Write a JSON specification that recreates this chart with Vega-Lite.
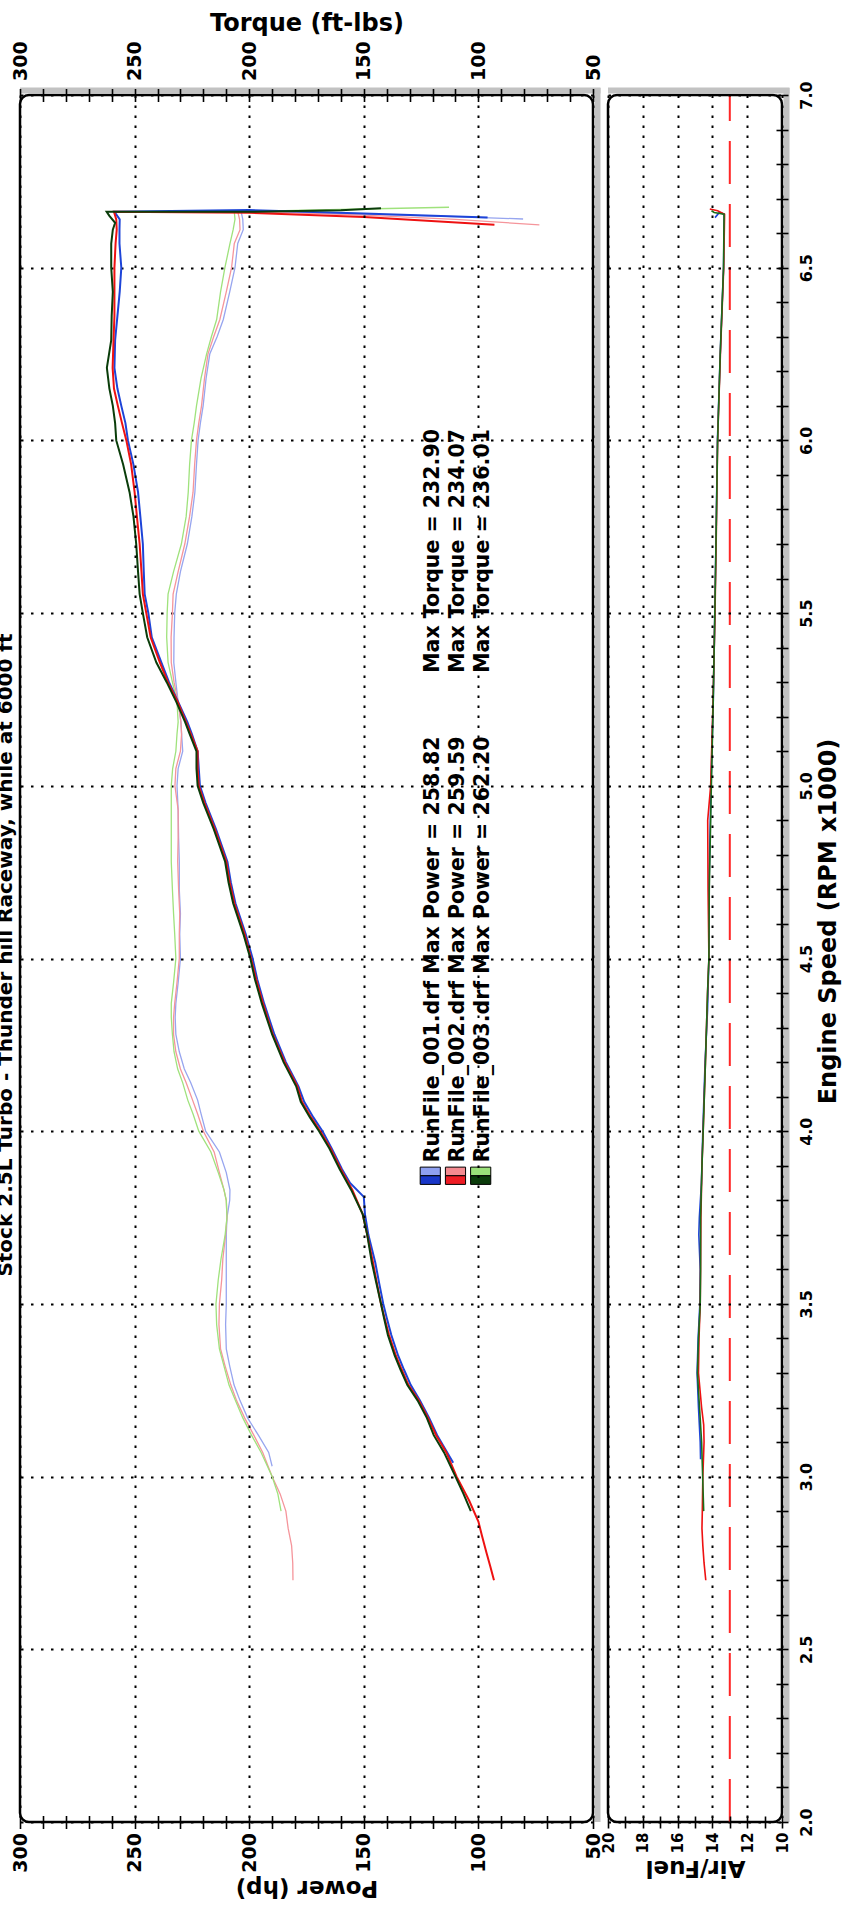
{
"$schema": "https://vega.github.io/schema/vega-lite/v6.json",
"background": "white",
"padding": {"left": -5, "top": 10, "right": 0, "bottom": 6},
"title": {"text": "Stock 2.5L Turbo - Thunder hill Raceway, while at 6000 ft", "orient": "left", "anchor": "middle", "fontSize": 20, "fontWeight": "bold", "color": "#000", "offset": -6},
"datasets": {
"torque": [
{"run":"001","i":0,"rpm":3.03,"value":190},{"run":"001","i":1,"rpm":3.07,"value":191.5},{"run":"001","i":2,"rpm":3.12,"value":196},{"run":"001","i":3,"rpm":3.17,"value":200.7},{"run":"001","i":4,"rpm":3.22,"value":204},{"run":"001","i":5,"rpm":3.265,"value":206.6},{"run":"001","i":6,"rpm":3.32,"value":208.5},{"run":"001","i":7,"rpm":3.37,"value":210},{"run":"001","i":8,"rpm":3.44,"value":210.3},{"run":"001","i":9,"rpm":3.5,"value":210},{"run":"001","i":10,"rpm":3.57,"value":210},{"run":"001","i":11,"rpm":3.63,"value":210},{"run":"001","i":12,"rpm":3.7,"value":210},{"run":"001","i":13,"rpm":3.75,"value":209.7},{"run":"001","i":14,"rpm":3.8,"value":208.5},{"run":"001","i":15,"rpm":3.83,"value":208.4},{"run":"001","i":16,"rpm":3.88,"value":210},{"run":"001","i":17,"rpm":3.94,"value":213},{"run":"001","i":18,"rpm":4.0,"value":219},{"run":"001","i":19,"rpm":4.05,"value":221},{"run":"001","i":20,"rpm":4.09,"value":222.5},{"run":"001","i":21,"rpm":4.14,"value":225.5},{"run":"001","i":22,"rpm":4.18,"value":228.3},{"run":"001","i":23,"rpm":4.23,"value":230.5},{"run":"001","i":24,"rpm":4.28,"value":232},{"run":"001","i":25,"rpm":4.33,"value":232.3},{"run":"001","i":26,"rpm":4.37,"value":232},{"run":"001","i":27,"rpm":4.43,"value":231},{"run":"001","i":28,"rpm":4.5,"value":230},{"run":"001","i":29,"rpm":4.57,"value":230.3},{"run":"001","i":30,"rpm":4.63,"value":230},{"run":"001","i":31,"rpm":4.7,"value":230.5},{"run":"001","i":32,"rpm":4.78,"value":230.5},{"run":"001","i":33,"rpm":4.85,"value":230.8},{"run":"001","i":34,"rpm":4.93,"value":231},{"run":"001","i":35,"rpm":5.0,"value":231.5},{"run":"001","i":36,"rpm":5.05,"value":231},{"run":"001","i":37,"rpm":5.1,"value":229},{"run":"001","i":38,"rpm":5.15,"value":229.5},{"run":"001","i":39,"rpm":5.185,"value":229.8},{"run":"001","i":40,"rpm":5.243,"value":231},{"run":"001","i":41,"rpm":5.3,"value":232},{"run":"001","i":42,"rpm":5.357,"value":232.9},{"run":"001","i":43,"rpm":5.43,"value":232.8},{"run":"001","i":44,"rpm":5.5,"value":232.5},{"run":"001","i":45,"rpm":5.555,"value":231.8},{"run":"001","i":46,"rpm":5.62,"value":230},{"run":"001","i":47,"rpm":5.7,"value":227},{"run":"001","i":48,"rpm":5.78,"value":225},{"run":"001","i":49,"rpm":5.85,"value":223.7},{"run":"001","i":50,"rpm":5.93,"value":223},{"run":"001","i":51,"rpm":6.0,"value":222.3},{"run":"001","i":52,"rpm":6.05,"value":221.3},{"run":"001","i":53,"rpm":6.1,"value":220.1},{"run":"001","i":54,"rpm":6.18,"value":218.8},{"run":"001","i":55,"rpm":6.25,"value":217.2},{"run":"001","i":56,"rpm":6.3,"value":214},{"run":"001","i":57,"rpm":6.35,"value":211.3},{"run":"001","i":58,"rpm":6.43,"value":208.5},{"run":"001","i":59,"rpm":6.5,"value":206.2},{"run":"001","i":60,"rpm":6.57,"value":205},{"run":"001","i":61,"rpm":6.61,"value":202.6},{"run":"001","i":62,"rpm":6.64,"value":202.8},{"run":"001","i":63,"rpm":6.662,"value":203.5},{"run":"001","i":64,"rpm":6.66,"value":180},{"run":"001","i":65,"rpm":6.655,"value":150},{"run":"001","i":66,"rpm":6.648,"value":110},{"run":"001","i":67,"rpm":6.641,"value":80.5},
{"run":"002","i":0,"rpm":2.7,"value":180.9},{"run":"002","i":1,"rpm":2.75,"value":181},{"run":"002","i":2,"rpm":2.8,"value":181.5},{"run":"002","i":3,"rpm":2.85,"value":183},{"run":"002","i":4,"rpm":2.9,"value":184},{"run":"002","i":5,"rpm":2.95,"value":186.5},{"run":"002","i":6,"rpm":3.0,"value":190},{"run":"002","i":7,"rpm":3.07,"value":194.1},{"run":"002","i":8,"rpm":3.12,"value":198},{"run":"002","i":9,"rpm":3.17,"value":202},{"run":"002","i":10,"rpm":3.22,"value":205.5},{"run":"002","i":11,"rpm":3.265,"value":208},{"run":"002","i":12,"rpm":3.32,"value":210.5},{"run":"002","i":13,"rpm":3.37,"value":212.5},{"run":"002","i":14,"rpm":3.44,"value":213.2},{"run":"002","i":15,"rpm":3.5,"value":213},{"run":"002","i":16,"rpm":3.57,"value":212},{"run":"002","i":17,"rpm":3.63,"value":211.5},{"run":"002","i":18,"rpm":3.7,"value":210.3},{"run":"002","i":19,"rpm":3.75,"value":209.7},{"run":"002","i":20,"rpm":3.8,"value":210},{"run":"002","i":21,"rpm":3.83,"value":211},{"run":"002","i":22,"rpm":3.88,"value":213},{"run":"002","i":23,"rpm":3.94,"value":215.3},{"run":"002","i":24,"rpm":4.0,"value":220},{"run":"002","i":25,"rpm":4.05,"value":222.5},{"run":"002","i":26,"rpm":4.09,"value":224.7},{"run":"002","i":27,"rpm":4.14,"value":227.5},{"run":"002","i":28,"rpm":4.18,"value":230},{"run":"002","i":29,"rpm":4.23,"value":232},{"run":"002","i":30,"rpm":4.28,"value":233},{"run":"002","i":31,"rpm":4.33,"value":233},{"run":"002","i":32,"rpm":4.37,"value":232.5},{"run":"002","i":33,"rpm":4.43,"value":231.5},{"run":"002","i":34,"rpm":4.5,"value":230.5},{"run":"002","i":35,"rpm":4.57,"value":230.5},{"run":"002","i":36,"rpm":4.63,"value":230.3},{"run":"002","i":37,"rpm":4.7,"value":230.8},{"run":"002","i":38,"rpm":4.78,"value":231.2},{"run":"002","i":39,"rpm":4.85,"value":231},{"run":"002","i":40,"rpm":4.93,"value":231},{"run":"002","i":41,"rpm":5.0,"value":232.4},{"run":"002","i":42,"rpm":5.05,"value":232},{"run":"002","i":43,"rpm":5.1,"value":230},{"run":"002","i":44,"rpm":5.15,"value":229.5},{"run":"002","i":45,"rpm":5.185,"value":229.8},{"run":"002","i":46,"rpm":5.243,"value":231},{"run":"002","i":47,"rpm":5.3,"value":232.8},{"run":"002","i":48,"rpm":5.357,"value":234},{"run":"002","i":49,"rpm":5.43,"value":234.07},{"run":"002","i":50,"rpm":5.5,"value":233.5},{"run":"002","i":51,"rpm":5.555,"value":233.2},{"run":"002","i":52,"rpm":5.62,"value":231},{"run":"002","i":53,"rpm":5.7,"value":228.1},{"run":"002","i":54,"rpm":5.78,"value":226},{"run":"002","i":55,"rpm":5.85,"value":224.5},{"run":"002","i":56,"rpm":5.93,"value":223.8},{"run":"002","i":57,"rpm":6.0,"value":223},{"run":"002","i":58,"rpm":6.05,"value":222},{"run":"002","i":59,"rpm":6.1,"value":220.8},{"run":"002","i":60,"rpm":6.18,"value":219.5},{"run":"002","i":61,"rpm":6.25,"value":218},{"run":"002","i":62,"rpm":6.3,"value":215.5},{"run":"002","i":63,"rpm":6.35,"value":212.8},{"run":"002","i":64,"rpm":6.43,"value":210},{"run":"002","i":65,"rpm":6.5,"value":207.7},{"run":"002","i":66,"rpm":6.57,"value":206.5},{"run":"002","i":67,"rpm":6.61,"value":204},{"run":"002","i":68,"rpm":6.64,"value":204.2},{"run":"002","i":69,"rpm":6.662,"value":205},{"run":"002","i":70,"rpm":6.659,"value":180},{"run":"002","i":71,"rpm":6.652,"value":150},{"run":"002","i":72,"rpm":6.64,"value":110},{"run":"002","i":73,"rpm":6.624,"value":73.4},
{"run":"003","i":0,"rpm":2.9,"value":186.1},{"run":"003","i":1,"rpm":2.95,"value":187.5},{"run":"003","i":2,"rpm":3.0,"value":190},{"run":"003","i":3,"rpm":3.07,"value":194.8},{"run":"003","i":4,"rpm":3.12,"value":199},{"run":"003","i":5,"rpm":3.17,"value":202.8},{"run":"003","i":6,"rpm":3.22,"value":206},{"run":"003","i":7,"rpm":3.265,"value":208.8},{"run":"003","i":8,"rpm":3.32,"value":211},{"run":"003","i":9,"rpm":3.37,"value":213},{"run":"003","i":10,"rpm":3.44,"value":214.2},{"run":"003","i":11,"rpm":3.5,"value":214.5},{"run":"003","i":12,"rpm":3.57,"value":213.5},{"run":"003","i":13,"rpm":3.63,"value":212.3},{"run":"003","i":14,"rpm":3.7,"value":210.5},{"run":"003","i":15,"rpm":3.75,"value":209.7},{"run":"003","i":16,"rpm":3.8,"value":210},{"run":"003","i":17,"rpm":3.83,"value":211},{"run":"003","i":18,"rpm":3.88,"value":213.5},{"run":"003","i":19,"rpm":3.94,"value":216.7},{"run":"003","i":20,"rpm":4.0,"value":222},{"run":"003","i":21,"rpm":4.05,"value":224.5},{"run":"003","i":22,"rpm":4.09,"value":226.8},{"run":"003","i":23,"rpm":4.14,"value":229},{"run":"003","i":24,"rpm":4.18,"value":231.2},{"run":"003","i":25,"rpm":4.23,"value":232.8},{"run":"003","i":26,"rpm":4.28,"value":233.5},{"run":"003","i":27,"rpm":4.33,"value":234},{"run":"003","i":28,"rpm":4.37,"value":234},{"run":"003","i":29,"rpm":4.43,"value":233},{"run":"003","i":30,"rpm":4.5,"value":232},{"run":"003","i":31,"rpm":4.57,"value":232.5},{"run":"003","i":32,"rpm":4.63,"value":233},{"run":"003","i":33,"rpm":4.7,"value":233.5},{"run":"003","i":34,"rpm":4.78,"value":234},{"run":"003","i":35,"rpm":4.85,"value":234},{"run":"003","i":36,"rpm":4.93,"value":234},{"run":"003","i":37,"rpm":5.0,"value":234},{"run":"003","i":38,"rpm":5.05,"value":233.4},{"run":"003","i":39,"rpm":5.1,"value":232},{"run":"003","i":40,"rpm":5.15,"value":231.5},{"run":"003","i":41,"rpm":5.185,"value":231},{"run":"003","i":42,"rpm":5.243,"value":231.5},{"run":"003","i":43,"rpm":5.3,"value":233.5},{"run":"003","i":44,"rpm":5.357,"value":235.4},{"run":"003","i":45,"rpm":5.43,"value":236},{"run":"003","i":46,"rpm":5.5,"value":235.8},{"run":"003","i":47,"rpm":5.555,"value":235.4},{"run":"003","i":48,"rpm":5.62,"value":233},{"run":"003","i":49,"rpm":5.7,"value":229.6},{"run":"003","i":50,"rpm":5.78,"value":227.5},{"run":"003","i":51,"rpm":5.85,"value":226.6},{"run":"003","i":52,"rpm":5.93,"value":226},{"run":"003","i":53,"rpm":6.0,"value":225.2},{"run":"003","i":54,"rpm":6.05,"value":224},{"run":"003","i":55,"rpm":6.1,"value":223},{"run":"003","i":56,"rpm":6.18,"value":221},{"run":"003","i":57,"rpm":6.25,"value":218.6},{"run":"003","i":58,"rpm":6.3,"value":216.5},{"run":"003","i":59,"rpm":6.35,"value":214.2},{"run":"003","i":60,"rpm":6.43,"value":212.5},{"run":"003","i":61,"rpm":6.5,"value":210.6},{"run":"003","i":62,"rpm":6.57,"value":208.4},{"run":"003","i":63,"rpm":6.61,"value":207},{"run":"003","i":64,"rpm":6.64,"value":206.2},{"run":"003","i":65,"rpm":6.662,"value":206.5},{"run":"003","i":66,"rpm":6.666,"value":180},{"run":"003","i":67,"rpm":6.67,"value":150},{"run":"003","i":68,"rpm":6.675,"value":112.8}
],
"power": [
{"run":"001","i":0,"rpm":3.04,"value":111},{"run":"001","i":1,"rpm":3.08,"value":114.5},{"run":"001","i":2,"rpm":3.12,"value":118},{"run":"001","i":3,"rpm":3.17,"value":121.5},{"run":"001","i":4,"rpm":3.22,"value":125.5},{"run":"001","i":5,"rpm":3.265,"value":129.5},{"run":"001","i":6,"rpm":3.31,"value":132.5},{"run":"001","i":7,"rpm":3.35,"value":135},{"run":"001","i":8,"rpm":3.41,"value":138},{"run":"001","i":9,"rpm":3.46,"value":140},{"run":"001","i":10,"rpm":3.5,"value":141.5},{"run":"001","i":11,"rpm":3.56,"value":143.3},{"run":"001","i":12,"rpm":3.62,"value":145},{"run":"001","i":13,"rpm":3.7,"value":148},{"run":"001","i":14,"rpm":3.76,"value":149.5},{"run":"001","i":15,"rpm":3.81,"value":150},{"run":"001","i":16,"rpm":3.85,"value":156},{"run":"001","i":17,"rpm":3.89,"value":159.5},{"run":"001","i":18,"rpm":3.95,"value":164},{"run":"001","i":19,"rpm":4.0,"value":168},{"run":"001","i":20,"rpm":4.04,"value":172},{"run":"001","i":21,"rpm":4.085,"value":176},{"run":"001","i":22,"rpm":4.13,"value":178.5},{"run":"001","i":23,"rpm":4.2,"value":184},{"run":"001","i":24,"rpm":4.28,"value":189},{"run":"001","i":25,"rpm":4.37,"value":193.5},{"run":"001","i":26,"rpm":4.44,"value":196.5},{"run":"001","i":27,"rpm":4.5,"value":198.5},{"run":"001","i":28,"rpm":4.57,"value":201.5},{"run":"001","i":29,"rpm":4.66,"value":206},{"run":"001","i":30,"rpm":4.72,"value":208},{"run":"001","i":31,"rpm":4.78,"value":209.5},{"run":"001","i":32,"rpm":4.875,"value":214.5},{"run":"001","i":33,"rpm":4.95,"value":219},{"run":"001","i":34,"rpm":5.0,"value":221.5},{"run":"001","i":35,"rpm":5.05,"value":222},{"run":"001","i":36,"rpm":5.1,"value":222.5},{"run":"001","i":37,"rpm":5.15,"value":225},{"run":"001","i":38,"rpm":5.185,"value":227},{"run":"001","i":39,"rpm":5.243,"value":231},{"run":"001","i":40,"rpm":5.3,"value":235},{"run":"001","i":41,"rpm":5.357,"value":238.3},{"run":"001","i":42,"rpm":5.43,"value":242.5},{"run":"001","i":43,"rpm":5.5,"value":244},{"run":"001","i":44,"rpm":5.555,"value":245.6},{"run":"001","i":45,"rpm":5.62,"value":246},{"run":"001","i":46,"rpm":5.7,"value":246.4},{"run":"001","i":47,"rpm":5.78,"value":247.5},{"run":"001","i":48,"rpm":5.85,"value":248.5},{"run":"001","i":49,"rpm":5.93,"value":250.5},{"run":"001","i":50,"rpm":6.0,"value":252.9},{"run":"001","i":51,"rpm":6.05,"value":254},{"run":"001","i":52,"rpm":6.1,"value":255.8},{"run":"001","i":53,"rpm":6.15,"value":257.5},{"run":"001","i":54,"rpm":6.21,"value":258.8},{"run":"001","i":55,"rpm":6.29,"value":258.5},{"run":"001","i":56,"rpm":6.36,"value":257.5},{"run":"001","i":57,"rpm":6.43,"value":256.5},{"run":"001","i":58,"rpm":6.5,"value":255.8},{"run":"001","i":59,"rpm":6.57,"value":256.6},{"run":"001","i":60,"rpm":6.61,"value":256.6},{"run":"001","i":61,"rpm":6.64,"value":256.5},{"run":"001","i":62,"rpm":6.662,"value":258.8},{"run":"001","i":63,"rpm":6.667,"value":200},{"run":"001","i":64,"rpm":6.657,"value":150},{"run":"001","i":65,"rpm":6.645,"value":96},
{"run":"002","i":0,"rpm":2.7,"value":93.2},{"run":"002","i":1,"rpm":2.74,"value":94.8},{"run":"002","i":2,"rpm":2.78,"value":96.5},{"run":"002","i":3,"rpm":2.83,"value":98.5},{"run":"002","i":4,"rpm":2.87,"value":100},{"run":"002","i":5,"rpm":2.93,"value":104},{"run":"002","i":6,"rpm":3.0,"value":109.5},{"run":"002","i":7,"rpm":3.07,"value":114},{"run":"002","i":8,"rpm":3.12,"value":118.5},{"run":"002","i":9,"rpm":3.17,"value":122},{"run":"002","i":10,"rpm":3.22,"value":126},{"run":"002","i":11,"rpm":3.265,"value":130.5},{"run":"002","i":12,"rpm":3.31,"value":133.5},{"run":"002","i":13,"rpm":3.35,"value":136},{"run":"002","i":14,"rpm":3.41,"value":139},{"run":"002","i":15,"rpm":3.46,"value":141},{"run":"002","i":16,"rpm":3.5,"value":142.5},{"run":"002","i":17,"rpm":3.56,"value":144.3},{"run":"002","i":18,"rpm":3.62,"value":146},{"run":"002","i":19,"rpm":3.7,"value":148.5},{"run":"002","i":20,"rpm":3.76,"value":150.5},{"run":"002","i":21,"rpm":3.83,"value":155},{"run":"002","i":22,"rpm":3.89,"value":160},{"run":"002","i":23,"rpm":3.95,"value":164.5},{"run":"002","i":24,"rpm":4.0,"value":169},{"run":"002","i":25,"rpm":4.04,"value":173},{"run":"002","i":26,"rpm":4.085,"value":177},{"run":"002","i":27,"rpm":4.13,"value":179},{"run":"002","i":28,"rpm":4.2,"value":184.5},{"run":"002","i":29,"rpm":4.28,"value":189.7},{"run":"002","i":30,"rpm":4.37,"value":194},{"run":"002","i":31,"rpm":4.44,"value":197},{"run":"002","i":32,"rpm":4.5,"value":199.2},{"run":"002","i":33,"rpm":4.57,"value":202},{"run":"002","i":34,"rpm":4.66,"value":206.5},{"run":"002","i":35,"rpm":4.72,"value":208.5},{"run":"002","i":36,"rpm":4.78,"value":210},{"run":"002","i":37,"rpm":4.875,"value":215},{"run":"002","i":38,"rpm":4.95,"value":219.5},{"run":"002","i":39,"rpm":5.0,"value":222},{"run":"002","i":40,"rpm":5.05,"value":222.5},{"run":"002","i":41,"rpm":5.1,"value":222.5},{"run":"002","i":42,"rpm":5.15,"value":225.5},{"run":"002","i":43,"rpm":5.185,"value":227.6},{"run":"002","i":44,"rpm":5.243,"value":231.2},{"run":"002","i":45,"rpm":5.3,"value":235.5},{"run":"002","i":46,"rpm":5.357,"value":239},{"run":"002","i":47,"rpm":5.43,"value":243},{"run":"002","i":48,"rpm":5.5,"value":244.9},{"run":"002","i":49,"rpm":5.555,"value":246.4},{"run":"002","i":50,"rpm":5.62,"value":247},{"run":"002","i":51,"rpm":5.7,"value":247.8},{"run":"002","i":52,"rpm":5.78,"value":249},{"run":"002","i":53,"rpm":5.85,"value":250},{"run":"002","i":54,"rpm":5.93,"value":251.5},{"run":"002","i":55,"rpm":6.0,"value":253.6},{"run":"002","i":56,"rpm":6.05,"value":255.5},{"run":"002","i":57,"rpm":6.1,"value":257.3},{"run":"002","i":58,"rpm":6.15,"value":259},{"run":"002","i":59,"rpm":6.21,"value":259.59},{"run":"002","i":60,"rpm":6.29,"value":259.2},{"run":"002","i":61,"rpm":6.36,"value":258.8},{"run":"002","i":62,"rpm":6.43,"value":258.8},{"run":"002","i":63,"rpm":6.5,"value":258.8},{"run":"002","i":64,"rpm":6.57,"value":258.3},{"run":"002","i":65,"rpm":6.61,"value":257.8},{"run":"002","i":66,"rpm":6.64,"value":258},{"run":"002","i":67,"rpm":6.662,"value":259},{"run":"002","i":68,"rpm":6.659,"value":200},{"run":"002","i":69,"rpm":6.647,"value":150},{"run":"002","i":70,"rpm":6.624,"value":93},
{"run":"003","i":0,"rpm":2.9,"value":103.3},{"run":"003","i":1,"rpm":2.95,"value":106.5},{"run":"003","i":2,"rpm":3.0,"value":110},{"run":"003","i":3,"rpm":3.07,"value":115},{"run":"003","i":4,"rpm":3.12,"value":119.5},{"run":"003","i":5,"rpm":3.17,"value":122.5},{"run":"003","i":6,"rpm":3.22,"value":126.5},{"run":"003","i":7,"rpm":3.265,"value":131},{"run":"003","i":8,"rpm":3.31,"value":134},{"run":"003","i":9,"rpm":3.35,"value":136.5},{"run":"003","i":10,"rpm":3.41,"value":139.5},{"run":"003","i":11,"rpm":3.46,"value":141.2},{"run":"003","i":12,"rpm":3.5,"value":142.5},{"run":"003","i":13,"rpm":3.56,"value":144.5},{"run":"003","i":14,"rpm":3.62,"value":146.5},{"run":"003","i":15,"rpm":3.7,"value":148.5},{"run":"003","i":16,"rpm":3.76,"value":150.5},{"run":"003","i":17,"rpm":3.83,"value":155.5},{"run":"003","i":18,"rpm":3.89,"value":160.5},{"run":"003","i":19,"rpm":3.95,"value":165},{"run":"003","i":20,"rpm":4.0,"value":169.5},{"run":"003","i":21,"rpm":4.04,"value":173.5},{"run":"003","i":22,"rpm":4.085,"value":177.5},{"run":"003","i":23,"rpm":4.13,"value":179.5},{"run":"003","i":24,"rpm":4.2,"value":185},{"run":"003","i":25,"rpm":4.28,"value":190},{"run":"003","i":26,"rpm":4.37,"value":194.5},{"run":"003","i":27,"rpm":4.44,"value":197.5},{"run":"003","i":28,"rpm":4.5,"value":199.5},{"run":"003","i":29,"rpm":4.57,"value":202.5},{"run":"003","i":30,"rpm":4.66,"value":207},{"run":"003","i":31,"rpm":4.72,"value":209},{"run":"003","i":32,"rpm":4.78,"value":210.5},{"run":"003","i":33,"rpm":4.875,"value":215.5},{"run":"003","i":34,"rpm":4.95,"value":220},{"run":"003","i":35,"rpm":5.0,"value":222.5},{"run":"003","i":36,"rpm":5.05,"value":223},{"run":"003","i":37,"rpm":5.1,"value":223},{"run":"003","i":38,"rpm":5.15,"value":226},{"run":"003","i":39,"rpm":5.185,"value":228},{"run":"003","i":40,"rpm":5.243,"value":231.8},{"run":"003","i":41,"rpm":5.3,"value":236},{"run":"003","i":42,"rpm":5.357,"value":240.5},{"run":"003","i":43,"rpm":5.43,"value":244.5},{"run":"003","i":44,"rpm":5.5,"value":246.4},{"run":"003","i":45,"rpm":5.555,"value":247.8},{"run":"003","i":46,"rpm":5.62,"value":248.5},{"run":"003","i":47,"rpm":5.7,"value":249.3},{"run":"003","i":48,"rpm":5.78,"value":250.5},{"run":"003","i":49,"rpm":5.85,"value":252.2},{"run":"003","i":50,"rpm":5.93,"value":255},{"run":"003","i":51,"rpm":6.0,"value":258},{"run":"003","i":52,"rpm":6.05,"value":258.5},{"run":"003","i":53,"rpm":6.1,"value":259.5},{"run":"003","i":54,"rpm":6.15,"value":261},{"run":"003","i":55,"rpm":6.21,"value":262.1},{"run":"003","i":56,"rpm":6.29,"value":260.2},{"run":"003","i":57,"rpm":6.36,"value":260},{"run":"003","i":58,"rpm":6.43,"value":259.5},{"run":"003","i":59,"rpm":6.5,"value":260.2},{"run":"003","i":60,"rpm":6.57,"value":260.2},{"run":"003","i":61,"rpm":6.61,"value":259.5},{"run":"003","i":62,"rpm":6.63,"value":258.5},{"run":"003","i":63,"rpm":6.65,"value":261},{"run":"003","i":64,"rpm":6.662,"value":262.2},{"run":"003","i":65,"rpm":6.662,"value":200},{"run":"003","i":66,"rpm":6.666,"value":160},{"run":"003","i":67,"rpm":6.672,"value":142.5}
],
"afr": [
{"run":"001","i":0,"rpm":3.05,"afr":14.68},{"run":"001","i":1,"rpm":3.1,"afr":14.7},{"run":"001","i":2,"rpm":3.2,"afr":14.8},{"run":"001","i":3,"rpm":3.3,"afr":14.88},{"run":"001","i":4,"rpm":3.4,"afr":14.82},{"run":"001","i":5,"rpm":3.5,"afr":14.72},{"run":"001","i":6,"rpm":3.6,"afr":14.7},{"run":"001","i":7,"rpm":3.7,"afr":14.78},{"run":"001","i":8,"rpm":3.75,"afr":14.75},{"run":"001","i":9,"rpm":3.85,"afr":14.63},{"run":"001","i":10,"rpm":4.0,"afr":14.55},{"run":"001","i":11,"rpm":4.2,"afr":14.42},{"run":"001","i":12,"rpm":4.35,"afr":14.28},{"run":"001","i":13,"rpm":4.5,"afr":14.2},{"run":"001","i":14,"rpm":4.7,"afr":14.2},{"run":"001","i":15,"rpm":4.9,"afr":14.12},{"run":"001","i":16,"rpm":5.0,"afr":14.08},{"run":"001","i":17,"rpm":5.25,"afr":13.95},{"run":"001","i":18,"rpm":5.5,"afr":13.86},{"run":"001","i":19,"rpm":5.75,"afr":13.78},{"run":"001","i":20,"rpm":6.0,"afr":13.71},{"run":"001","i":21,"rpm":6.25,"afr":13.55},{"run":"001","i":22,"rpm":6.5,"afr":13.36},{"run":"001","i":23,"rpm":6.645,"afr":13.32},{"run":"001","i":24,"rpm":6.655,"afr":13.33},{"run":"001","i":25,"rpm":6.66,"afr":13.6},{"run":"001","i":26,"rpm":6.645,"afr":13.85},
{"run":"002","i":0,"rpm":2.7,"afr":14.38},{"run":"002","i":1,"rpm":2.75,"afr":14.48},{"run":"002","i":2,"rpm":2.8,"afr":14.55},{"run":"002","i":3,"rpm":2.85,"afr":14.6},{"run":"002","i":4,"rpm":2.9,"afr":14.58},{"run":"002","i":5,"rpm":3.0,"afr":14.55},{"run":"002","i":6,"rpm":3.1,"afr":14.48},{"run":"002","i":7,"rpm":3.15,"afr":14.5},{"run":"002","i":8,"rpm":3.2,"afr":14.62},{"run":"002","i":9,"rpm":3.3,"afr":14.8},{"run":"002","i":10,"rpm":3.4,"afr":14.77},{"run":"002","i":11,"rpm":3.5,"afr":14.7},{"run":"002","i":12,"rpm":3.6,"afr":14.68},{"run":"002","i":13,"rpm":3.75,"afr":14.66},{"run":"002","i":14,"rpm":3.9,"afr":14.6},{"run":"002","i":15,"rpm":4.0,"afr":14.53},{"run":"002","i":16,"rpm":4.2,"afr":14.4},{"run":"002","i":17,"rpm":4.4,"afr":14.28},{"run":"002","i":18,"rpm":4.5,"afr":14.2},{"run":"002","i":19,"rpm":4.7,"afr":14.25},{"run":"002","i":20,"rpm":4.9,"afr":14.27},{"run":"002","i":21,"rpm":5.0,"afr":14.1},{"run":"002","i":22,"rpm":5.25,"afr":13.96},{"run":"002","i":23,"rpm":5.5,"afr":13.85},{"run":"002","i":24,"rpm":5.75,"afr":13.77},{"run":"002","i":25,"rpm":6.0,"afr":13.7},{"run":"002","i":26,"rpm":6.25,"afr":13.54},{"run":"002","i":27,"rpm":6.5,"afr":13.35},{"run":"002","i":28,"rpm":6.655,"afr":13.3},{"run":"002","i":29,"rpm":6.665,"afr":13.7},{"run":"002","i":30,"rpm":6.67,"afr":14.15},
{"run":"003","i":0,"rpm":2.9,"afr":14.5},{"run":"003","i":1,"rpm":3.0,"afr":14.56},{"run":"003","i":2,"rpm":3.1,"afr":14.62},{"run":"003","i":3,"rpm":3.2,"afr":14.74},{"run":"003","i":4,"rpm":3.3,"afr":14.86},{"run":"003","i":5,"rpm":3.4,"afr":14.8},{"run":"003","i":6,"rpm":3.5,"afr":14.7},{"run":"003","i":7,"rpm":3.6,"afr":14.68},{"run":"003","i":8,"rpm":3.75,"afr":14.68},{"run":"003","i":9,"rpm":3.9,"afr":14.6},{"run":"003","i":10,"rpm":4.0,"afr":14.53},{"run":"003","i":11,"rpm":4.2,"afr":14.4},{"run":"003","i":12,"rpm":4.4,"afr":14.28},{"run":"003","i":13,"rpm":4.5,"afr":14.2},{"run":"003","i":14,"rpm":4.7,"afr":14.18},{"run":"003","i":15,"rpm":4.9,"afr":14.1},{"run":"003","i":16,"rpm":5.0,"afr":14.06},{"run":"003","i":17,"rpm":5.25,"afr":13.95},{"run":"003","i":18,"rpm":5.5,"afr":13.86},{"run":"003","i":19,"rpm":5.75,"afr":13.78},{"run":"003","i":20,"rpm":6.0,"afr":13.7},{"run":"003","i":21,"rpm":6.25,"afr":13.55},{"run":"003","i":22,"rpm":6.5,"afr":13.36},{"run":"003","i":23,"rpm":6.655,"afr":13.33},{"run":"003","i":24,"rpm":6.66,"afr":13.9},{"run":"003","i":25,"rpm":6.665,"afr":14.05}
]
},
"bounds": "flush",
"spacing": 15,
"hconcat": [
{
"width": 573,
"height": 1727,
"layer": [
{"data": {"values": [{}]}, "mark": {"type": "rule", "color": "#c2c2c2", "strokeWidth": 6, "xOffset": 4.5, "y2Offset": -7}, "encoding": {"x": {"datum": 50, "type": "quantitative", "scale": {"domain": [50, 300], "reverse": true, "nice": false, "zero": false}, "axis": null}, "y": {"datum": 2, "type": "quantitative", "scale": {"domain": [2, 7], "nice": false, "zero": false}, "axis": null}, "y2": {"datum": 7}}},
{"data": {"values": [{}]}, "mark": {"type": "rule", "color": "#c2c2c2", "strokeWidth": 6, "yOffset": -4.5, "x2Offset": 7.5}, "encoding": {"x": {"datum": 300, "type": "quantitative", "scale": {"domain": [50, 300], "reverse": true, "nice": false, "zero": false}, "axis": null}, "x2": {"datum": 50}, "y": {"datum": 7, "type": "quantitative", "scale": {"domain": [2, 7], "nice": false, "zero": false}, "axis": null}}},
{"data": {"name": "torque"}, "mark": {"type": "line", "strokeWidth": 1.3}, "encoding": {
"x": {"field": "value", "type": "quantitative", "scale": {"domain": [50, 300], "reverse": true, "nice": false, "zero": false}, "axis": {"orient": "top", "title": "Torque (ft-lbs)", "values": [50,60,70,80,90,100,110,120,130,140,150,160,170,180,190,200,210,220,230,240,250,260,270,280,290,300], "labelExpr": "datum.value % 50 === 0 ? datum.label : ''", "labelAngle": 270, "labelAlign": "left", "labelBaseline": "middle", "labelFontSize": 19, "labelPadding": 8, "tickSize": 13, "offset": -6.5, "grid": false, "titleFontSize": 24, "titlePadding": 5, "zindex": 1}},
"y": {"field": "rpm", "type": "quantitative", "scale": {"domain": [2, 7], "nice": false, "zero": false}, "axis": null},
"color": {"field": "run", "type": "nominal", "scale": {"domain": ["001", "002", "003"], "range": ["#97a5ef", "#f5959b", "#9fe27c"]}, "legend": null},
"order": {"field": "i", "type": "quantitative"}}},
{"data": {"name": "power"}, "mark": {"type": "line", "strokeWidth": 2}, "encoding": {
"x": {"field": "value", "type": "quantitative", "scale": {"domain": [50, 300], "reverse": true, "nice": false, "zero": false}, "axis": {"orient": "bottom", "title": "Power (hp)", "values": [50,60,70,80,90,100,110,120,130,140,150,160,170,180,190,200,210,220,230,240,250,260,270,280,290,300], "labelExpr": "datum.value % 50 === 0 ? datum.label : ''", "labelAngle": 270, "labelAlign": "right", "labelBaseline": "middle", "labelFontSize": 19, "labelPadding": 4, "tickSize": 13, "offset": -6.5, "grid": true, "gridOpacity": {"condition": {"test": "datum.value % 50 === 0", "value": 1}, "value": 0}, "titleAngle": 180, "titleBaseline": "bottom", "titleFontSize": 23, "titlePadding": 3, "zindex": 1}},
"y": {"field": "rpm", "type": "quantitative", "scale": {"domain": [2, 7], "nice": false, "zero": false}, "axis": {"orient": "left", "values": [2, 2.5, 3, 3.5, 4, 4.5, 5, 5.5, 6, 6.5, 7], "labels": false, "ticks": false, "domain": false, "title": null, "grid": true}},
"color": {"field": "run", "type": "nominal", "scale": {"domain": ["001", "002", "003"], "range": ["#1d44d8", "#ee1111", "#0a3d0a"]}, "legend": null},
"order": {"field": "i", "type": "quantitative"}}},
{"data": {"values": [{}]}, "mark": {"type": "rect", "color": "#8fa0f0", "stroke": "#000", "strokeWidth": 1}, "encoding": {"x": {"datum": 125.4, "type": "quantitative", "scale": {"domain": [50, 300], "reverse": true, "nice": false, "zero": false}, "axis": null}, "x2": {"datum": 116.6}, "y": {"datum": 3.896, "type": "quantitative", "scale": {"domain": [2, 7], "nice": false, "zero": false}, "axis": null}, "y2": {"datum": 3.871}}},
{"data": {"values": [{}]}, "mark": {"type": "rect", "color": "#1836c8", "stroke": "#000", "strokeWidth": 1}, "encoding": {"x": {"datum": 125.4, "type": "quantitative", "scale": {"domain": [50, 300], "reverse": true, "nice": false, "zero": false}, "axis": null}, "x2": {"datum": 116.6}, "y": {"datum": 3.871, "type": "quantitative", "scale": {"domain": [2, 7], "nice": false, "zero": false}, "axis": null}, "y2": {"datum": 3.846}}},
{"data": {"values": [{}]}, "mark": {"type": "rect", "color": "#f48a90", "stroke": "#000", "strokeWidth": 1}, "encoding": {"x": {"datum": 114.4, "type": "quantitative", "scale": {"domain": [50, 300], "reverse": true, "nice": false, "zero": false}, "axis": null}, "x2": {"datum": 105.6}, "y": {"datum": 3.896, "type": "quantitative", "scale": {"domain": [2, 7], "nice": false, "zero": false}, "axis": null}, "y2": {"datum": 3.871}}},
{"data": {"values": [{}]}, "mark": {"type": "rect", "color": "#ee1c24", "stroke": "#000", "strokeWidth": 1}, "encoding": {"x": {"datum": 114.4, "type": "quantitative", "scale": {"domain": [50, 300], "reverse": true, "nice": false, "zero": false}, "axis": null}, "x2": {"datum": 105.6}, "y": {"datum": 3.871, "type": "quantitative", "scale": {"domain": [2, 7], "nice": false, "zero": false}, "axis": null}, "y2": {"datum": 3.846}}},
{"data": {"values": [{}]}, "mark": {"type": "rect", "color": "#9ae07a", "stroke": "#000", "strokeWidth": 1}, "encoding": {"x": {"datum": 103.4, "type": "quantitative", "scale": {"domain": [50, 300], "reverse": true, "nice": false, "zero": false}, "axis": null}, "x2": {"datum": 94.6}, "y": {"datum": 3.896, "type": "quantitative", "scale": {"domain": [2, 7], "nice": false, "zero": false}, "axis": null}, "y2": {"datum": 3.871}}},
{"data": {"values": [{}]}, "mark": {"type": "rect", "color": "#0b3b0b", "stroke": "#000", "strokeWidth": 1}, "encoding": {"x": {"datum": 103.4, "type": "quantitative", "scale": {"domain": [50, 300], "reverse": true, "nice": false, "zero": false}, "axis": null}, "x2": {"datum": 94.6}, "y": {"datum": 3.871, "type": "quantitative", "scale": {"domain": [2, 7], "nice": false, "zero": false}, "axis": null}, "y2": {"datum": 3.846}}},
{"data": {"values": [{}]}, "mark": {"type": "text", "angle": 270, "align": "left", "baseline": "middle", "fontSize": 20.5, "fontWeight": "bold", "color": "#000", "text": "RunFile_001.drf Max Power = 258.82"}, "encoding": {"x": {"datum": 119.8, "type": "quantitative", "scale": {"domain": [50, 300], "reverse": true, "nice": false, "zero": false}, "axis": null}, "y": {"datum": 3.91, "type": "quantitative", "scale": {"domain": [2, 7], "nice": false, "zero": false}, "axis": null}}},
{"data": {"values": [{}]}, "mark": {"type": "text", "angle": 270, "align": "left", "baseline": "middle", "fontSize": 20.5, "fontWeight": "bold", "color": "#000", "text": "Max Torque = 232.90"}, "encoding": {"x": {"datum": 119.8, "type": "quantitative", "scale": {"domain": [50, 300], "reverse": true, "nice": false, "zero": false}, "axis": null}, "y": {"datum": 5.327, "type": "quantitative", "scale": {"domain": [2, 7], "nice": false, "zero": false}, "axis": null}}},
{"data": {"values": [{}]}, "mark": {"type": "text", "angle": 270, "align": "left", "baseline": "middle", "fontSize": 20.5, "fontWeight": "bold", "color": "#000", "text": "RunFile_002.drf Max Power = 259.59"}, "encoding": {"x": {"datum": 108.8, "type": "quantitative", "scale": {"domain": [50, 300], "reverse": true, "nice": false, "zero": false}, "axis": null}, "y": {"datum": 3.91, "type": "quantitative", "scale": {"domain": [2, 7], "nice": false, "zero": false}, "axis": null}}},
{"data": {"values": [{}]}, "mark": {"type": "text", "angle": 270, "align": "left", "baseline": "middle", "fontSize": 20.5, "fontWeight": "bold", "color": "#000", "text": "Max Torque = 234.07"}, "encoding": {"x": {"datum": 108.8, "type": "quantitative", "scale": {"domain": [50, 300], "reverse": true, "nice": false, "zero": false}, "axis": null}, "y": {"datum": 5.327, "type": "quantitative", "scale": {"domain": [2, 7], "nice": false, "zero": false}, "axis": null}}},
{"data": {"values": [{}]}, "mark": {"type": "text", "angle": 270, "align": "left", "baseline": "middle", "fontSize": 20.5, "fontWeight": "bold", "color": "#000", "text": "RunFile_003.drf Max Power = 262.20"}, "encoding": {"x": {"datum": 97.8, "type": "quantitative", "scale": {"domain": [50, 300], "reverse": true, "nice": false, "zero": false}, "axis": null}, "y": {"datum": 3.91, "type": "quantitative", "scale": {"domain": [2, 7], "nice": false, "zero": false}, "axis": null}}},
{"data": {"values": [{}]}, "mark": {"type": "text", "angle": 270, "align": "left", "baseline": "middle", "fontSize": 20.5, "fontWeight": "bold", "color": "#000", "text": "Max Torque = 236.01"}, "encoding": {"x": {"datum": 97.8, "type": "quantitative", "scale": {"domain": [50, 300], "reverse": true, "nice": false, "zero": false}, "axis": null}, "y": {"datum": 5.327, "type": "quantitative", "scale": {"domain": [2, 7], "nice": false, "zero": false}, "axis": null}}}
],
"resolve": {"axis": {"x": "independent", "y": "independent"}, "scale": {"color": "independent"}}
},
{
"width": 174,
"height": 1727,
"layer": [
{"data": {"values": [{}]}, "mark": {"type": "rule", "color": "#c2c2c2", "strokeWidth": 6, "xOffset": 4.5, "y2Offset": -7}, "encoding": {"x": {"datum": 10, "type": "quantitative", "scale": {"domain": [10, 20], "reverse": true, "nice": false, "zero": false}, "axis": null}, "y": {"datum": 2, "type": "quantitative", "scale": {"domain": [2, 7], "nice": false, "zero": false}, "axis": null}, "y2": {"datum": 7}}},
{"data": {"values": [{}]}, "mark": {"type": "rule", "color": "#c2c2c2", "strokeWidth": 6, "yOffset": -4.5, "x2Offset": 7.5}, "encoding": {"x": {"datum": 20, "type": "quantitative", "scale": {"domain": [10, 20], "reverse": true, "nice": false, "zero": false}, "axis": null}, "x2": {"datum": 10}, "y": {"datum": 7, "type": "quantitative", "scale": {"domain": [2, 7], "nice": false, "zero": false}, "axis": null}}},
{"data": {"values": [{}]}, "mark": {"type": "rule", "color": "#ff2626", "strokeWidth": 2, "strokeDash": [43, 20]}, "encoding": {"x": {"datum": 13, "type": "quantitative", "scale": {"domain": [10, 20], "reverse": true, "nice": false, "zero": false}, "axis": null}, "y": {"datum": 2, "type": "quantitative", "scale": {"domain": [2, 7], "nice": false, "zero": false}, "axis": null}, "y2": {"datum": 7}}},
{"data": {"name": "afr"}, "mark": {"type": "line", "strokeWidth": 1.6}, "encoding": {
"x": {"field": "afr", "type": "quantitative", "scale": {"domain": [10, 20], "reverse": true, "nice": false, "zero": false}, "axis": {"orient": "bottom", "title": "Air/Fuel", "values": [10,10.5,11,11.5,12,12.5,13,13.5,14,14.5,15,15.5,16,16.5,17,17.5,18,18.5,19,19.5,20], "format": "d", "labelExpr": "datum.value % 2 === 0 ? datum.label : ''", "labelAngle": 270, "labelAlign": "right", "labelBaseline": "middle", "labelFontSize": 15, "labelPadding": 4, "tickSize": 12, "offset": -6, "grid": true, "gridOpacity": {"condition": {"test": "datum.value % 2 === 0", "value": 1}, "value": 0}, "titleAngle": 180, "titleBaseline": "bottom", "titleFontSize": 23, "titlePadding": 3, "zindex": 1}},
"y": {"field": "rpm", "type": "quantitative", "scale": {"domain": [2, 7], "nice": false, "zero": false}, "axis": {"orient": "right", "title": "Engine Speed (RPM x1000)", "values": [2,2.1,2.2,2.3,2.4,2.5,2.6,2.7,2.8,2.9,3,3.1,3.2,3.3,3.4,3.5,3.6,3.7,3.8,3.9,4,4.1,4.2,4.3,4.4,4.5,4.6,4.7,4.8,4.9,5,5.1,5.2,5.3,5.4,5.5,5.6,5.7,5.8,5.9,6,6.1,6.2,6.3,6.4,6.5,6.6,6.7,6.8,6.9,7], "format": ".1f", "labelExpr": "abs(datum.value * 2 - round(datum.value * 2)) < 0.01 ? datum.label : ''", "labelAngle": 270, "labelAlign": "center", "labelBaseline": "top", "labelFontSize": 16, "labelPadding": 10, "tickSize": 12, "offset": -6, "grid": true, "gridOpacity": {"condition": {"test": "abs(datum.value * 2 - round(datum.value * 2)) < 0.01", "value": 1}, "value": 0}, "titleAngle": 270, "titleBaseline": "top", "titleFontSize": 24, "titlePadding": 2, "titleY": 826, "zindex": 1}},
"color": {"field": "run", "type": "nominal", "scale": {"domain": ["001", "002", "003"], "range": ["#1d44d8", "#ee1111", "#1b6e1b"]}, "legend": null},
"order": {"field": "i", "type": "quantitative"}}}
],
"resolve": {"axis": {"x": "independent", "y": "independent"}}
}
],
"config": {
"font": "DejaVu Sans",
"view": {"stroke": "#000", "strokeWidth": 2.5, "cornerRadius": 9},
"axis": {"labelFont": "DejaVu Sans", "titleFont": "DejaVu Sans", "labelFontWeight": "bold", "titleFontWeight": "bold", "labelColor": "#000", "titleColor": "#000", "tickColor": "#000", "tickWidth": 1.6, "domain": false, "labelFlush": false, "labelOverlap": false, "labelBound": false, "gridColor": "#000", "gridDash": [2.5, 7.5], "gridWidth": 2},
"text": {"font": "DejaVu Sans"}
}
}
